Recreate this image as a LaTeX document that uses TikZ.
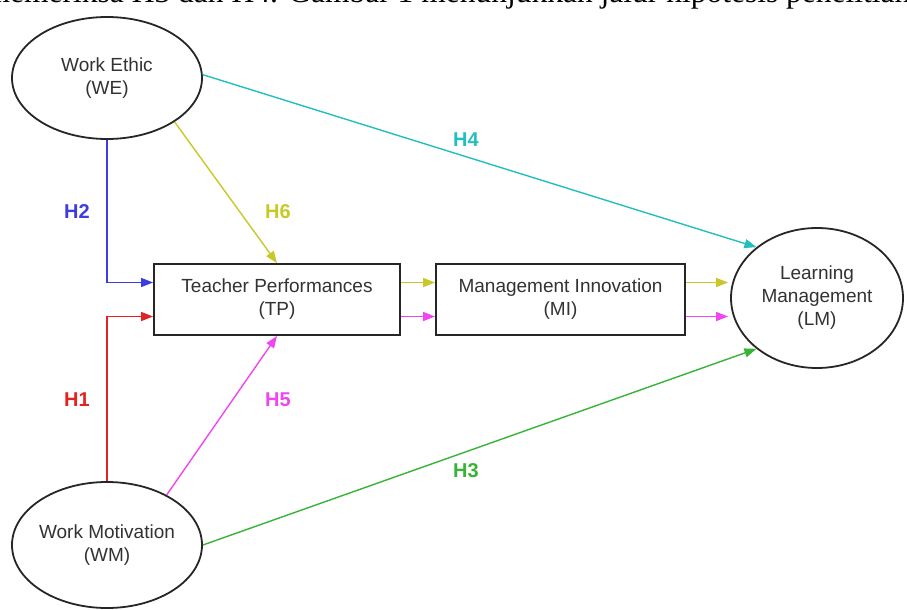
\documentclass[tikz,border=0pt]{standalone}
\usepackage{fontspec}
\setmainfont{Liberation Serif}
\setsansfont{Liberation Sans}
\usepackage{tikz}
\usetikzlibrary{arrows.meta}
\usetikzlibrary{shapes.geometric}
\definecolor{hblue}{RGB}{60,60,225}
\definecolor{hred}{RGB}{225,35,35}
\definecolor{hyel}{RGB}{200,200,40}
\definecolor{hmag}{RGB}{240,70,240}
\definecolor{hcyan}{RGB}{35,190,190}
\definecolor{hgreen}{RGB}{55,180,55}
\definecolor{ink}{RGB}{50,50,50}

\begin{document}
\begin{tikzpicture}
	[x=1pt,y=-1pt,line width=1.4pt,
	every node/.style={font=\sffamily\fontsize{19}{23}\selectfont,text=ink,align=center},
	var/.style={ellipse,draw=black!85,line width=1.8pt,inner sep=-4pt,minimum width=190,minimum height=122},
	blk/.style={rectangle,draw=black!85,line width=1.8pt,minimum width=246,minimum height=71},
	hyp/.style={font=\sffamily\bfseries\fontsize{20}{24}\selectfont},
	ar/.style={-{Triangle[length=12pt,width=9pt]}}]
	\useasboundingbox (0,0) rectangle (907,610);
	\begin{scope}
		\clip (0,0) rectangle (907,610);
		\node[anchor=base west,inner sep=0,text=black,font=\rmfamily\fontsize{31.5}{36}\selectfont] (cap) at (-15,2.5) {memeriksa H3 dan H4. Gambar 1 menunjukkan jalur hipotesis penelitian};
	\end{scope}
	
	\node[var] (WE) at (107,78) {Work Ethic\\(WE)};
	\node[var,minimum height=126] (WM) at (107,545) {Work Motivation\\(WM)};
	\node[blk] (TP) at (277,299.5) {Teacher Performances\\(TP)};
	\node[blk,minimum width=249] (MI) at (560.5,299.5) {Management Innovation\\(MI)};
	\node[var,minimum width=172,minimum height=140] (LM) at (817,298) {Learning\\Management\\(LM)};
	
	\draw[ar,hblue] (WE.south) |- ([yshift=17pt]TP.west);
	\draw[ar,hred] (WM.north) |- ([yshift=-17pt]TP.west);
	\draw[ar,hyel] ([yshift=17pt]TP.east) -- ([yshift=17pt]MI.west);
	\draw[ar,hmag] ([yshift=-17pt]TP.east) -- ([yshift=-17pt]MI.west);
	\draw[ar,hyel,shorten >=2pt] ([yshift=17pt]MI.east) -- ([yshift=17pt]MI.east -| LM.west);
	\draw[ar,hmag,shorten >=2pt] ([yshift=-17pt]MI.east) -- ([yshift=-17pt]MI.east -| LM.west);
	\foreach \from/\to/\col in 
		{WE.-33/TP.north/hyel, WM.40/TP.south/hmag, WE.2/LM.140/hcyan, WM.east/LM.220/hgreen}
	\draw[ar,\col] (\from) -- (\to);
	
	\node[hyp,text=hred] (h1) at (77,400) {H1};
	\node[hyp,text=hblue] (h2) at (77,212) {H2};
	\node[hyp,text=hgreen] (h3) at (466,471) {H3};
	\node[hyp,text=hcyan] (h4) at (466,140) {H4};
	\node[hyp,text=hmag] (h5) at (278,400) {H5};
	\node[hyp,text=hyel] (h6) at (278,212) {H6};
\end{tikzpicture}
\end{document}
